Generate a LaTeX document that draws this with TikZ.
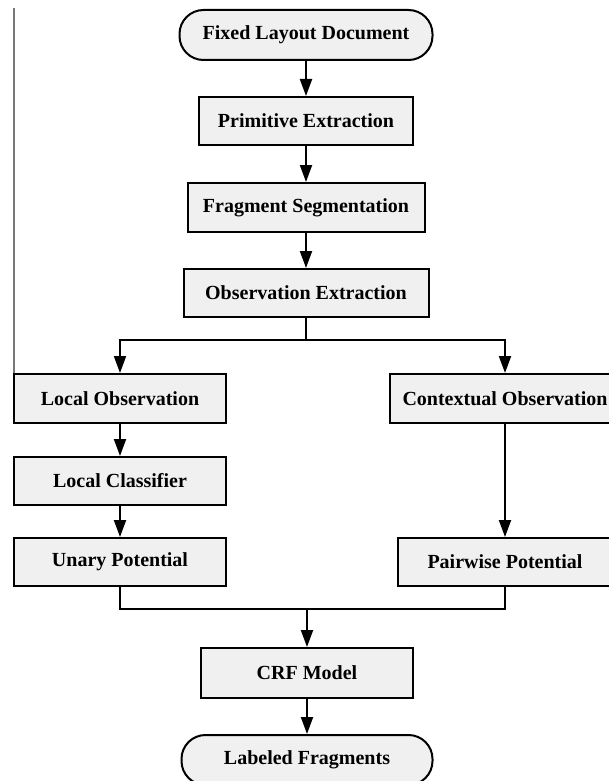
\documentclass[tikz,border=0pt]{standalone}
\usepackage{fontspec}
\setmainfont{Liberation Serif}
\usetikzlibrary{arrows.meta}
\definecolor{boxfill}{HTML}{F0F0F0}
\definecolor{edgegray}{HTML}{777777}
\tikzset{
  box/.style={draw=black, line width=2pt, fill=boxfill, inner sep=0pt,
    font=\fontsize{20}{22}\selectfont\bfseries, align=center},
  term/.style={box, rounded corners=24pt},
  conn/.style={draw=black, line width=2pt},
  arr/.style={conn, -{Triangle[length=17pt,width=12pt]}}
}
\begin{document}
\begin{tikzpicture}[x=1pt,y=-1pt]
\useasboundingbox (0,0) rectangle (609,781);
\clip (0,0) rectangle (609,781);
\node[term, minimum width=253pt, minimum height=50pt] (fixed) at (306,35) {Fixed Layout Document};
\node[box, minimum width=214pt, minimum height=48pt] (prim) at (306,121) {Primitive Extraction};
\node[box, minimum width=237pt, minimum height=49pt] (frag) at (306,207.5) {Fragment Segmentation};
\node[box, minimum width=245pt, minimum height=48pt] (obs) at (306,293) {Observation Extraction};
\node[box, minimum width=212pt, minimum height=49pt] (locobs) at (120,398.5) {Local Observation};
\node[box, minimum width=230pt, minimum height=49pt] (ctx) at (505,398.5) {Contextual Observation};
\node[box, minimum width=212pt, minimum height=48pt] (loccls) at (120,481) {Local Classifier};
\node[box, minimum width=212pt, minimum height=48pt] (unary) at (120,562) {Unary Potential};
\node[box, minimum width=214pt, minimum height=48pt] (pair) at (505,562) {Pairwise Potential};
\node[box, minimum width=212pt, minimum height=50pt] (crf) at (307,673) {CRF Model};
\node[term, minimum width=251pt, minimum height=50pt] (lab) at (307,760) {Labeled Fragments};
\coordinate (split) at (306,340);
\coordinate (merge) at (307,609);
\coordinate (gtop) at (13.5,8);
\draw[arr] (fixed.south) -- (prim.north);
\draw[arr] (prim.south) -- (frag.north);
\draw[arr] (frag.south) -- (obs.north);
\draw[conn] (obs.south) -- (split);
\draw[arr] (split) -| (locobs.north);
\draw[arr] (split) -| (ctx.north);
\draw[arr] (locobs.south) -- (loccls.north);
\draw[arr] (loccls.south) -- (unary.north);
\draw[arr] (ctx.south) -- (pair.north);
\draw[conn] (unary.south) |- (merge) -| (pair.south);
\draw[arr] (merge) -- (crf.north);
\draw[arr] (crf.south) -- (lab.north);
\draw[edgegray, line width=2pt] (gtop) -- (gtop |- locobs.north);
\end{tikzpicture}
\end{document}
